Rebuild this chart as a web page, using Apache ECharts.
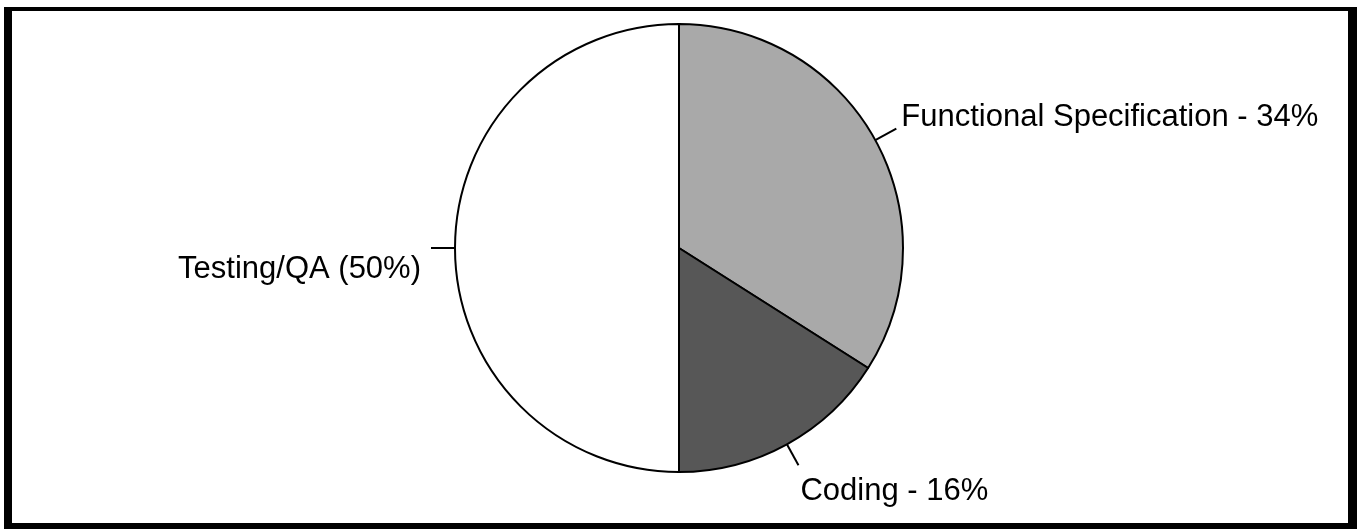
<!DOCTYPE html>
<html>
<head>
<meta charset="utf-8">
<title>Project effort split</title>
<script src="https://cdn.jsdelivr.net/npm/echarts@6/dist/echarts.min.js"></script>
<style>
  html, body { margin: 0; padding: 0; background: #ffffff; }
  #chart { width: 1357px; height: 529px; }
</style>
</head>
<body>
<div id="chart"></div>
<script>
// Share of project effort by phase (percent)
const phases = ['Functional Specification', 'Coding', 'Testing/QA'];
const shares = [34, 16, 50];
const labelFormats = ['{b} - {d}%', '{b} - {d}%', '{b} ({d}%)'];

// Presentation: slice fills and label nudges relative to the leader end
const sliceColors = ['#a9a9a9', '#575757', '#ffffff'];
const labelNudge = [[0, -11], [-3, 26], [-5, 21]];

const chart = echarts.init(document.getElementById('chart'), null, { renderer: 'canvas' });

const pieData = phases.map((name, i) => ({
  name: name,
  value: shares[i],
  itemStyle: { color: sliceColors[i] },
  label: { formatter: labelFormats[i] }
}));

chart.setOption({
  animation: false,
  backgroundColor: '#ffffff',
  graphic: [
    // black frame around the drawing area
    { type: 'rect', z: 100, shape: { x: 4, y: 7, width: 1353, height: 4 }, style: { fill: '#000' } },
    { type: 'rect', z: 100, shape: { x: 4, y: 7, width: 8, height: 522 }, style: { fill: '#000' } },
    { type: 'rect', z: 100, shape: { x: 1348, y: 7, width: 9, height: 522 }, style: { fill: '#000' } },
    { type: 'rect', z: 100, shape: { x: 4, y: 523, width: 1353, height: 6 }, style: { fill: '#000' } }
  ],
  series: [{
    type: 'pie',
    center: [679, 248],
    radius: 224,
    startAngle: 90,
    clockwise: true,
    silent: true,
    avoidLabelOverlap: false,
    itemStyle: { borderColor: '#000000', borderWidth: 2 },
    label: {
      show: true,
      position: 'outside',
      alignTo: 'none',
      color: '#000000',
      fontFamily: '"Liberation Sans", Arial, Helvetica, sans-serif',
      fontSize: 31,
      distanceToLabelLine: 5
    },
    labelLine: {
      show: true,
      length: 24,
      length2: 0,
      smooth: false,
      lineStyle: { color: '#000000', width: 2 }
    },
    labelLayout: function (params) {
      const n = labelNudge[params.dataIndex];
      return { dx: n[0], dy: n[1], labelLinePoints: params.labelLinePoints };
    },
    data: pieData
  }]
});
</script>
</body>
</html>
